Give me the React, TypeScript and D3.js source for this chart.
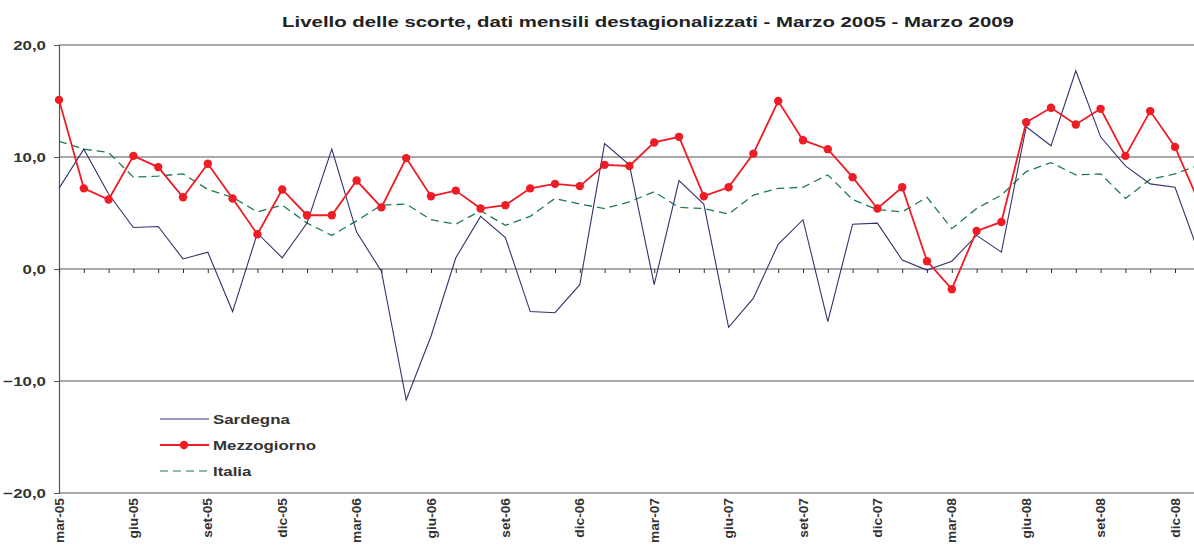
import React, { useEffect, useRef } from "react";
import * as d3 from "d3";

const monthNames = ["gen", "feb", "mar", "apr", "mag", "giu", "lug", "ago", "set", "ott", "nov", "dic"];

// mar-05 .. gen-09 (last point just past the right edge)
const months: string[] = [];
for (let i = 0; i < 49; i++) {
	const m = (2 + i) % 12;
	const y = 5 + Math.floor((2 + i) / 12);
	months.push(`${monthNames[m]}-${String(y).padStart(2, "0")}`);
}

const sardegna = [
	7.2, 10.7, 6.7, 3.7, 3.8, 0.9, 1.5, -3.8, 3.2, 1.0, 4.1, 10.7, 3.3, -0.2, -11.7, -6.0, 1.0,
	4.7, 2.8, -3.8, -3.9, -1.4, 11.2, 9.3, -1.4, 7.9, 5.8, -5.2, -2.6, 2.2, 4.4, -4.7, 4.0,
	4.1, 0.8, -0.1, 0.7, 3.0, 1.5, 12.7, 11.0, 17.7, 11.8, 9.2, 7.6, 7.3, 1.2,
];
const mezzogiorno = [
	15.1, 7.2, 6.2, 10.1, 9.1, 6.4, 9.4, 6.3, 3.1, 7.1, 4.8, 4.8, 7.9, 5.5, 9.9, 6.5, 7.0,
	5.4, 5.7, 7.2, 7.6, 7.4, 9.3, 9.2, 11.3, 11.8, 6.5, 7.3, 10.3, 15.0, 11.5, 10.7, 8.2,
	5.4, 7.3, 0.7, -1.8, 3.4, 4.2, 13.1, 14.4, 12.9, 14.3, 10.1, 14.1, 10.9, 5.8,
];
const italia = [
	11.4, 10.7, 10.4, 8.2, 8.3, 8.5, 7.1, 6.4, 5.1, 5.7, 4.1, 3.0, 4.3, 5.7, 5.8, 4.4, 4.0,
	5.2, 3.9, 4.7, 6.3, 5.8, 5.4, 6.0, 6.9, 5.5, 5.4, 4.9, 6.6, 7.2, 7.3, 8.4, 6.2,
	5.3, 5.1, 6.4, 3.6, 5.4, 6.6, 8.7, 9.5, 8.4, 8.5, 6.3, 8.0, 8.5, 9.3,
];
const yTicks = [20, 10, 0, -10, -20];

const W = 1194;
const H = 545;
const FONT = "'Liberation Sans', Arial, sans-serif";
// the original glyphs are stretched horizontally
const SX = 1.25;

const App: React.FC = () => {
	const ref = useRef<SVGSVGElement | null>(null);

	useEffect(() => {
		if (!ref.current) return;
		document.body.style.margin = "0";
		const svg = d3.select(ref.current);
		svg.selectAll("*").remove();

		const left = 59;
		const step = 24.8;
		const x = d3
			.scalePoint<string>()
			.domain(months)
			.range([left, left + step * (months.length - 1)]);
		const y = d3.scaleLinear().domain([-20, 20]).range([493, 45]);

		svg.append("text")
			.attr("transform", `translate(648,27) scale(1.36,1)`)
			.attr("text-anchor", "middle")
			.attr("font-family", FONT)
			.attr("font-weight", "bold")
			.attr("font-size", 15)
			.attr("fill", "#222")
			.text("Livello delle scorte, dati mensili destagionalizzati - Marzo 2005 - Marzo 2009");

		// gridlines
		svg.append("g")
			.selectAll("line")
			.data(yTicks.filter((d) => d !== 0))
			.enter()
			.append("line")
			.attr("x1", left)
			.attr("x2", W)
			.attr("y1", (d) => y(d))
			.attr("y2", (d) => y(d))
			.attr("stroke", "#555")
			.attr("stroke-width", 1.2);

		// y axis
		const yAxis = svg
			.append("g")
			.attr("transform", `translate(${left},0)`)
			.call(
				d3
					.axisLeft(y)
					.tickValues(yTicks)
					.tickSize(5)
					.tickFormat((d) => d3.format(".1f")(d as number).replace(".", ","))
			);
		yAxis.select(".domain").attr("stroke", "#555").attr("stroke-width", 1.2);
		yAxis.selectAll(".tick line").attr("stroke", "#555");
		yAxis.selectAll("text")
			.attr("font-family", FONT)
			.attr("font-weight", "bold")
			.attr("font-size", 13.5)
			.attr("fill", "#333")
			.attr("x", null)
			.attr("transform", `translate(-13,0) scale(${SX},1)`);

		// zero line with monthly ticks
		const xAxis = svg
			.append("g")
			.attr("transform", `translate(0,${y(0)})`)
			.call(d3.axisBottom(x).tickSize(4).tickFormat(() => ""));
		xAxis.select(".domain").attr("stroke", "#555").attr("stroke-width", 1.2).attr("d", `M${left},0H${W}`);
		xAxis.selectAll(".tick line").attr("stroke", "#333");

		// x labels every quarter
		svg.append("g")
			.selectAll("text")
			.data(months.filter((_, i) => i % 3 === 0 && i < 46))
			.enter()
			.append("text")
			.attr("transform", (d) => `translate(${(x(d) as number) + 4.5},498) rotate(-90) scale(1.1,1)`)
			.attr("text-anchor", "end")
			.attr("font-family", FONT)
			.attr("font-weight", "bold")
			.attr("font-size", 12.5)
			.attr("fill", "#333")
			.text((d) => d);

		const line = d3
			.line<number>()
			.x((_, i) => x(months[i]) as number)
			.y((d) => y(d));

		svg.append("path")
			.attr("d", line(italia))
			.attr("fill", "none")
			.attr("stroke", "#1f7a52")
			.attr("stroke-width", 1.3)
			.attr("stroke-dasharray", "8,5");

		svg.append("path")
			.attr("d", line(sardegna))
			.attr("fill", "none")
			.attr("stroke", "#33336e")
			.attr("stroke-width", 1.1);

		svg.append("path")
			.attr("d", line(mezzogiorno))
			.attr("fill", "none")
			.attr("stroke", "#ee1c25")
			.attr("stroke-width", 1.8);

		svg.append("g")
			.selectAll("circle")
			.data(mezzogiorno)
			.enter()
			.append("circle")
			.attr("cx", (_, i) => x(months[i]) as number)
			.attr("cy", (d) => y(d))
			.attr("r", 4.2)
			.attr("fill", "#ee1c25");

		// legend
		const legend = [
			{ name: "Sardegna", color: "#33336e", dash: null, dot: false },
			{ name: "Mezzogiorno", color: "#ee1c25", dash: null, dot: true },
			{ name: "Italia", color: "#1f7a52", dash: "8,5", dot: false },
		];
		const lg = svg.append("g");
		legend.forEach((l, i) => {
			const ly = 419 + i * 26;
			lg.append("line")
				.attr("x1", 160)
				.attr("x2", 209)
				.attr("y1", ly)
				.attr("y2", ly)
				.attr("stroke", l.color)
				.attr("stroke-width", l.dot ? 1.8 : 1.2)
				.attr("stroke-dasharray", l.dash);
			if (l.dot) {
				lg.append("circle").attr("cx", 184).attr("cy", ly).attr("r", 4.2).attr("fill", l.color);
			}
			lg.append("text")
				.attr("transform", `translate(213,${ly + 5}) scale(${SX},1)`)
				.attr("font-family", FONT)
				.attr("font-weight", "bold")
				.attr("font-size", 13.5)
				.attr("fill", "#333")
				.text(l.name);
		});
	}, []);

	return <svg ref={ref} width={W} height={H} style={{ display: "block" }} />;
};

export default App;
